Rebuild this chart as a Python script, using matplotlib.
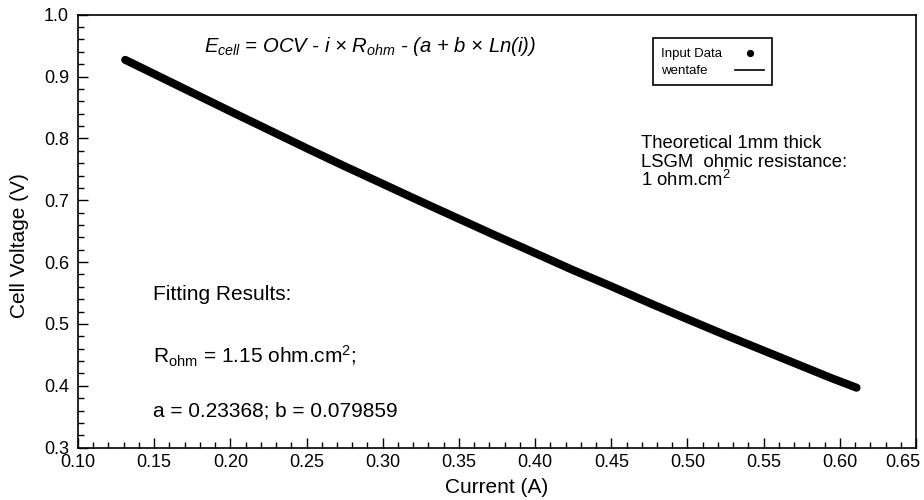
import matplotlib
matplotlib.use("Agg")
import matplotlib.pyplot as plt
import matplotlib.transforms as mtransforms
from matplotlib.lines import Line2D
from matplotlib.patches import Rectangle
from matplotlib.ticker import MultipleLocator, FormatStrFormatter

plt.rcParams["font.family"] = ["Liberation Sans", "DejaVu Sans"]
plt.rcParams["mathtext.fontset"] = "custom"
plt.rcParams["mathtext.rm"] = "Liberation Sans"
plt.rcParams["mathtext.it"] = "Liberation Sans:italic"

# values
current = [0.131, 0.146, 0.170, 0.199, 0.225, 0.251, 0.275, 0.297, 0.325,
           0.350, 0.375, 0.396, 0.425, 0.449, 0.475, 0.495, 0.525, 0.547,
           0.574, 0.595, 0.611]
voltage = [0.927, 0.909, 0.880, 0.845, 0.814, 0.783, 0.755, 0.730, 0.698,
           0.670, 0.642, 0.619, 0.587, 0.562, 0.534, 0.513, 0.482, 0.460,
           0.433, 0.412, 0.397]

x_ticks = [0.10, 0.15, 0.20, 0.25, 0.30, 0.35, 0.40, 0.45, 0.50, 0.55, 0.60, 0.65]
y_ticks = [0.3, 0.4, 0.5, 0.6, 0.7, 0.8, 0.9, 1.0]

W, H = 924, 500
fig = plt.figure(figsize=(W / 100, H / 100), dpi=100)
ax = fig.add_axes([78 / W, 1 - 447.7 / H, (916 - 78) / W, (447.7 - 14.7) / H])

# input data drawn as a dense band, fit line on top
ax.plot(current, voltage, color="black", lw=5.8, solid_capstyle="round",
        solid_joinstyle="round", zorder=2)
ax.plot(current, voltage, color="black", lw=1.0, zorder=3)

ax.set_xlim(0.10, 0.65)
ax.set_ylim(0.3, 1.0)
ax.set_xticks(x_ticks)
ax.set_yticks(y_ticks)
ax.xaxis.set_minor_locator(MultipleLocator(0.01))
ax.yaxis.set_minor_locator(MultipleLocator(0.02))
ax.xaxis.set_major_formatter(FormatStrFormatter("%.2f"))
ax.yaxis.set_major_formatter(FormatStrFormatter("%.1f"))
ax.tick_params(which="both", direction="in", top=False, right=False, width=1.0)
ax.tick_params(which="major", length=7.5, labelsize=13)
ax.tick_params(which="minor", length=4)
ax.tick_params(axis="x", pad=4.5)
ax.tick_params(axis="y", pad=6.5)
for sp in ax.spines.values():
    sp.set_linewidth(1.2)

# last x label pulled inside the figure, as in the original
last = ax.get_xticklabels()[-1]
last.set_transform(last.get_transform() + mtransforms.ScaledTranslation(-13 / 100, 0, fig.dpi_scale_trans))

ax.set_xlabel("Current (A)", fontsize=15, labelpad=5)
ax.set_ylabel("Cell Voltage (V)", fontsize=15)
ax.yaxis.set_label_coords(-0.0585, 0.466)

ax.text(0.183, 0.940, r"$E_{cell}$ = OCV - i × $R_{ohm}$ - (a + b × Ln(i))",
        fontsize=14.6, style="italic", va="baseline")

ax.text(0.149, 0.538, "Fitting Results:", fontsize=15, va="baseline")
ax.text(0.149, 0.4368, r"R$_{\mathrm{ohm}}$ = 1.15 ohm.cm$^{2}$;", fontsize=15, va="baseline")
ax.text(0.149, 0.3506, "a = 0.23368; b = 0.079859", fontsize=15, va="baseline")

ax.text(0.4695, 0.7852, "Theoretical 1mm thick", fontsize=13.3, va="baseline")
ax.text(0.4695, 0.7538, "LSGM  ohmic resistance:", fontsize=13.3, va="baseline")
ax.text(0.4695, 0.7236, r"1 ohm.cm$^{2}$", fontsize=13.3, va="baseline")

# legend box (text left, symbols right)
def fx(px):
    return px / W

def fy(py):
    return 1 - py / H

fig.add_artist(Rectangle((fx(653), fy(85)), fx(772) - fx(653), fy(37.7) - fy(85),
                         transform=fig.transFigure, fill=True, facecolor="white",
                         edgecolor="black", lw=1.2, zorder=5))
fig.text(fx(661), fy(54), "Input Data", fontsize=9.5, va="center", zorder=6)
fig.text(fx(661), fy(71.5), "wentafe", fontsize=9.5, va="center", zorder=6)
fig.add_artist(Line2D([fx(750)], [fy(53)], transform=fig.transFigure, color="black",
                      marker="o", ms=4.2, ls="none", zorder=6))
fig.add_artist(Line2D([fx(735), fx(764)], [fy(70), fy(70)], transform=fig.transFigure,
                      color="black", lw=1.2, zorder=6))

fig.savefig("out.png", dpi=100)
